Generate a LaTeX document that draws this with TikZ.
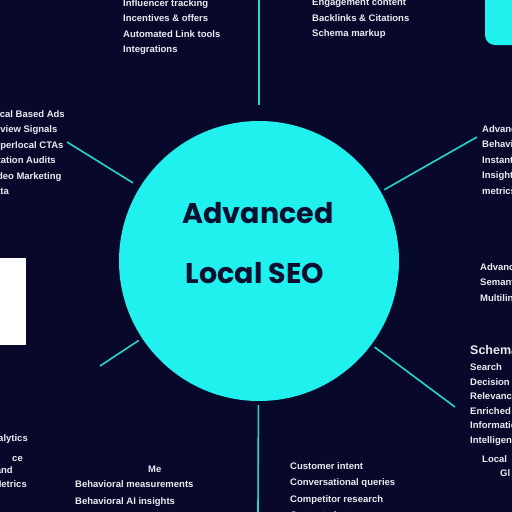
\documentclass[tikz,border=0pt]{standalone}
\usepackage{fontspec}
\setmainfont{Liberation Sans}
\newfontfamily\titlefont{Poppins}
\usetikzlibrary{positioning}

\definecolor{navy}{RGB}{8,9,42}
\definecolor{aqua}{RGB}{32,240,238}
\definecolor{spokecol}{RGB}{38,214,204}
\definecolor{ink}{RGB}{12,16,48}
\definecolor{paper}{RGB}{234,236,242}

\tikzset{
	block/.style={anchor=north west, align=left, inner sep=0pt, text=paper,
		font=\bfseries\fontsize{9.5}{15.5}\selectfont},
	item/.style={anchor=base west, inner sep=0pt, text=paper, font=\bfseries\fontsize{9.5}{11}\selectfont},
	spoke/.style={draw=spokecol, line width=1.6pt, shorten <=4pt},
	title/.style={anchor=base, text=ink, font=\titlefont\bfseries\fontsize{28.5}{28.5}\selectfont}
}

\begin{document}
\begin{tikzpicture}[x=1pt, y=-1pt]
	\useasboundingbox (0,0) rectangle (512,512);
	\fill[navy] (0,0) rectangle (512,512);
	\clip (0,0) rectangle (512,512);

	% side pieces
	\fill[aqua, rounded corners=10pt] (485,-15) rectangle (530,45);
	\fill[white] (-5,258) rectangle (26,345);

	% hub
	\node[circle, fill=aqua, minimum size=280pt, inner sep=0pt] (seo) at (259,261) {};
	\node[title] (adv) at (258,223) {Advanced};
	\node[title] (loc) at (255,283) {Local SEO};

	% spokes
	\coordinate (n) at (259,0);
	\coordinate (s) at (258,512);
	\coordinate (nw) at (67,142);
	\coordinate (ne) at (477,137);
	\coordinate (sw) at (100,366);
	\coordinate (se) at (455,407);

	\draw[spoke, shorten <=16pt] (seo) -- (n);
	\draw[spoke] (seo) -- (s);
	\draw[spoke, shorten <=8pt] (seo) -- (nw);
	\draw[spoke] (seo) -- (ne);
	\draw[spoke] (seo) -- (sw);
	\draw[spoke] (seo) -- (se);

	% text around the hub
	\node[block] (topl) at (123,-1) {Influencer tracking\\Incentives \& offers\\Automated Link tools\\Integrations};
	\node[block] (topr) at (312,-1) {Engagement content\\Backlinks \& Citations\\Schema markup};
	\node[block] (left) at (-12,110) {Local Based Ads\\Review Signals\\Hyperlocal CTAs\\Citation Audits\\Video  Marketing\\Data};
	\node[block] (rup) at (482,125) {Advanced\\Behavioral\\Instant\\Insights\\metrics};
	\node[block] (rmid) at (480,263) {Advanced\\Semantic\\Multilingual};

	\node[item, font=\bfseries\fontsize{12.5}{12.5}\selectfont] (schema) at (470,354) {Schema};
	\node[block, font=\bfseries\fontsize{9.5}{14.6}\selectfont, below=9pt of schema.south west, anchor=north west] (rlow) {Search\\Decision\\Relevance\\Enriched\\Information\\Intelligence};
	\node[item] (lo) at (482,462) {Local};
	\node[item] (gl) at (500,476) {Gl};

	\node[item, anchor=base east] (an) at (28,441) {analytics};
	\node[item, anchor=base east] (ce) at (23,461) {ce};
	\node[item, anchor=base east] (nd) at (13,473) {and};
	\node[item, anchor=base east] (mt) at (27,487) {Metrics};

	\node[item] (me) at (148,472) {Me};
	\node[block, font=\bfseries\fontsize{9.5}{17}\selectfont] (botl) at (75,480) {Behavioral measurements\\Behavioral AI insights};
	\node[block, font=\bfseries\fontsize{9.5}{16.5}\selectfont] (botc) at (290,462) {Customer intent\\Conversational queries\\Competitor research\\Content clusters};
\end{tikzpicture}
\end{document}
